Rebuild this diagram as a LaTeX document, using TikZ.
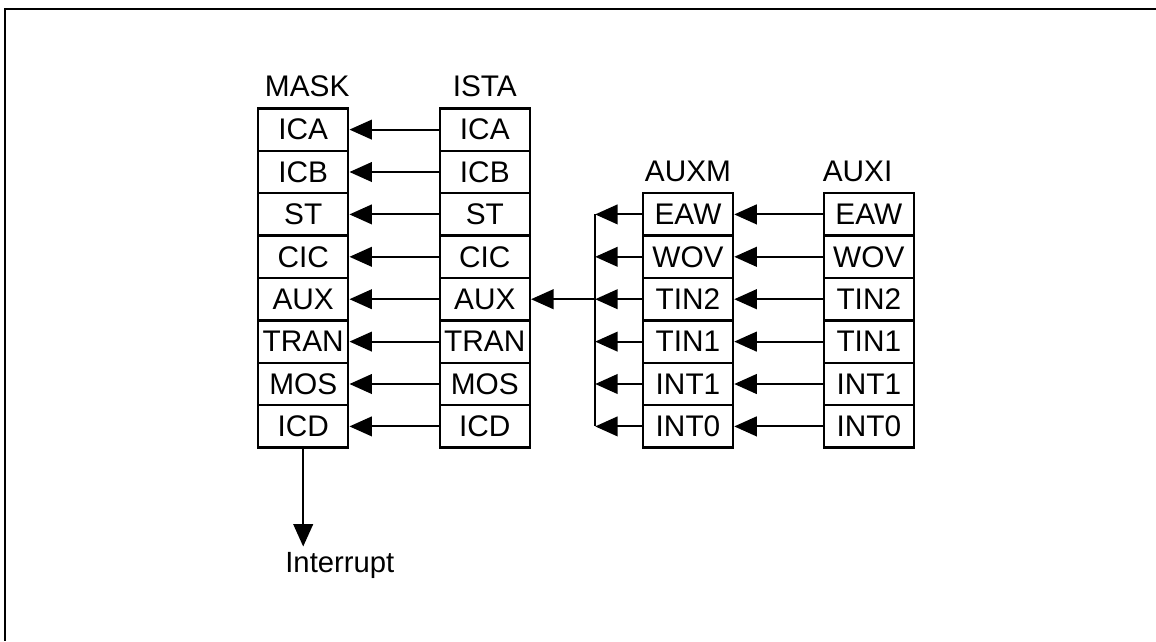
\documentclass[tikz,border=0pt]{standalone}
\usepackage{fontspec}
\setmainfont{Liberation Sans}
\usetikzlibrary{arrows.meta}

\begin{document}
\begin{tikzpicture}[
		cell/.style={draw, rectangle, line width=0.9pt, minimum width=1.125cm, minimum height=0.53cm, inner sep=1pt, font=\fontsize{10.6}{12}\selectfont},
		every label/.style={font=\fontsize{10.6}{12}\selectfont},
		>={Triangle[length=8pt, width=7pt]},
		link/.style={->, line width=0.7pt}]
				\useasboundingbox (0, 0) rectangle (14.45, -8.0125);
				\draw[line width=0.7pt] (14.45, -0.1125) -- (0.0625, -0.1125) -- (0.0625, -8.0125);
				% MASK
				\node[cell, label={[xshift=0.05cm]above:MASK}] (M1)at(3.79, -1.62) {ICA};
				\node[cell] (M2)at(3.79, -2.15) {ICB};
				\node[cell] (M3)at(3.79, -2.68) {ST};
				\node[cell] (M4)at(3.79, -3.21) {CIC};
				\node[cell] (M5)at(3.79, -3.74) {AUX};
				\node[cell] (M6)at(3.79, -4.27) {TRAN};
				\node[cell] (M7)at(3.79, -4.80) {MOS};
				\node[cell] (M8)at(3.79, -5.33) {ICD};
				% ISTA
				\node[cell, label=above:{ISTA}] (I1)at(6.06, -1.62) {ICA};
				\node[cell] (I2)at(6.06, -2.15) {ICB};
				\node[cell] (I3)at(6.06, -2.68) {ST};
				\node[cell] (I4)at(6.06, -3.21) {CIC};
				\node[cell] (I5)at(6.06, -3.74) {AUX};
				\node[cell] (I6)at(6.06, -4.27) {TRAN};
				\node[cell] (I7)at(6.06, -4.80) {MOS};
				\node[cell] (I8)at(6.06, -5.33) {ICD};
				% AUXM
				\node[cell, label=above:{AUXM}] (XM1)at(8.60, -2.68) {EAW};
				\node[cell] (XM2)at(8.60, -3.21) {WOV};
				\node[cell] (XM3)at(8.60, -3.74) {TIN2};
				\node[cell] (XM4)at(8.60, -4.27) {TIN1};
				\node[cell] (XM5)at(8.60, -4.80) {INT1};
				\node[cell] (XM6)at(8.60, -5.33) {INT0};
				% AUXI
				\node[cell, label={[xshift=-0.14cm]above:AUXI}] (XI1)at(10.86, -2.68) {EAW};
				\node[cell] (XI2)at(10.86, -3.21) {WOV};
				\node[cell] (XI3)at(10.86, -3.74) {TIN2};
				\node[cell] (XI4)at(10.86, -4.27) {TIN1};
				\node[cell] (XI5)at(10.86, -4.80) {INT1};
				\node[cell] (XI6)at(10.86, -5.33) {INT0};
				\node[anchor=base west, inner sep=0pt, font=\fontsize{10.4}{12}\selectfont] (INT)at(3.56, -7.16) {Interrupt};
				\coordinate (busT)at(7.44, -2.68);
				\coordinate (busB)at(7.44, -5.33);
				% ISTA -> MASK
				\draw[link] (I1) -- (M1);
				\draw[link] (I2) -- (M2);
				\draw[link] (I3) -- (M3);
				\draw[link] (I4) -- (M4);
				\draw[link] (I5) -- (M5);
				\draw[link] (I6) -- (M6);
				\draw[link] (I7) -- (M7);
				\draw[link] (I8) -- (M8);
				% AUXI -> AUXM
				\draw[link] (XI1) -- (XM1);
				\draw[link] (XI2) -- (XM2);
				\draw[link] (XI3) -- (XM3);
				\draw[link] (XI4) -- (XM4);
				\draw[link] (XI5) -- (XM5);
				\draw[link] (XI6) -- (XM6);
				% AUXM -> bus -> AUX
				\draw[line width=0.7pt] (busT) -- (busB);
				\draw[link] (XM1.west) -- (XM1.west -| busT);
				\draw[link] (XM2.west) -- (XM2.west -| busT);
				\draw[link] (XM3.west) -- (XM3.west -| busT);
				\draw[link] (XM4.west) -- (XM4.west -| busT);
				\draw[link] (XM5.west) -- (XM5.west -| busT);
				\draw[link] (XM6.west) -- (XM6.west -| busT);
				\draw[link] (I5.east -| busT) -- (I5.east);
				\draw[link] (M8.south) -- ([yshift=0.07cm]M8.south |- INT.north);
			\end{tikzpicture}
\end{document}
